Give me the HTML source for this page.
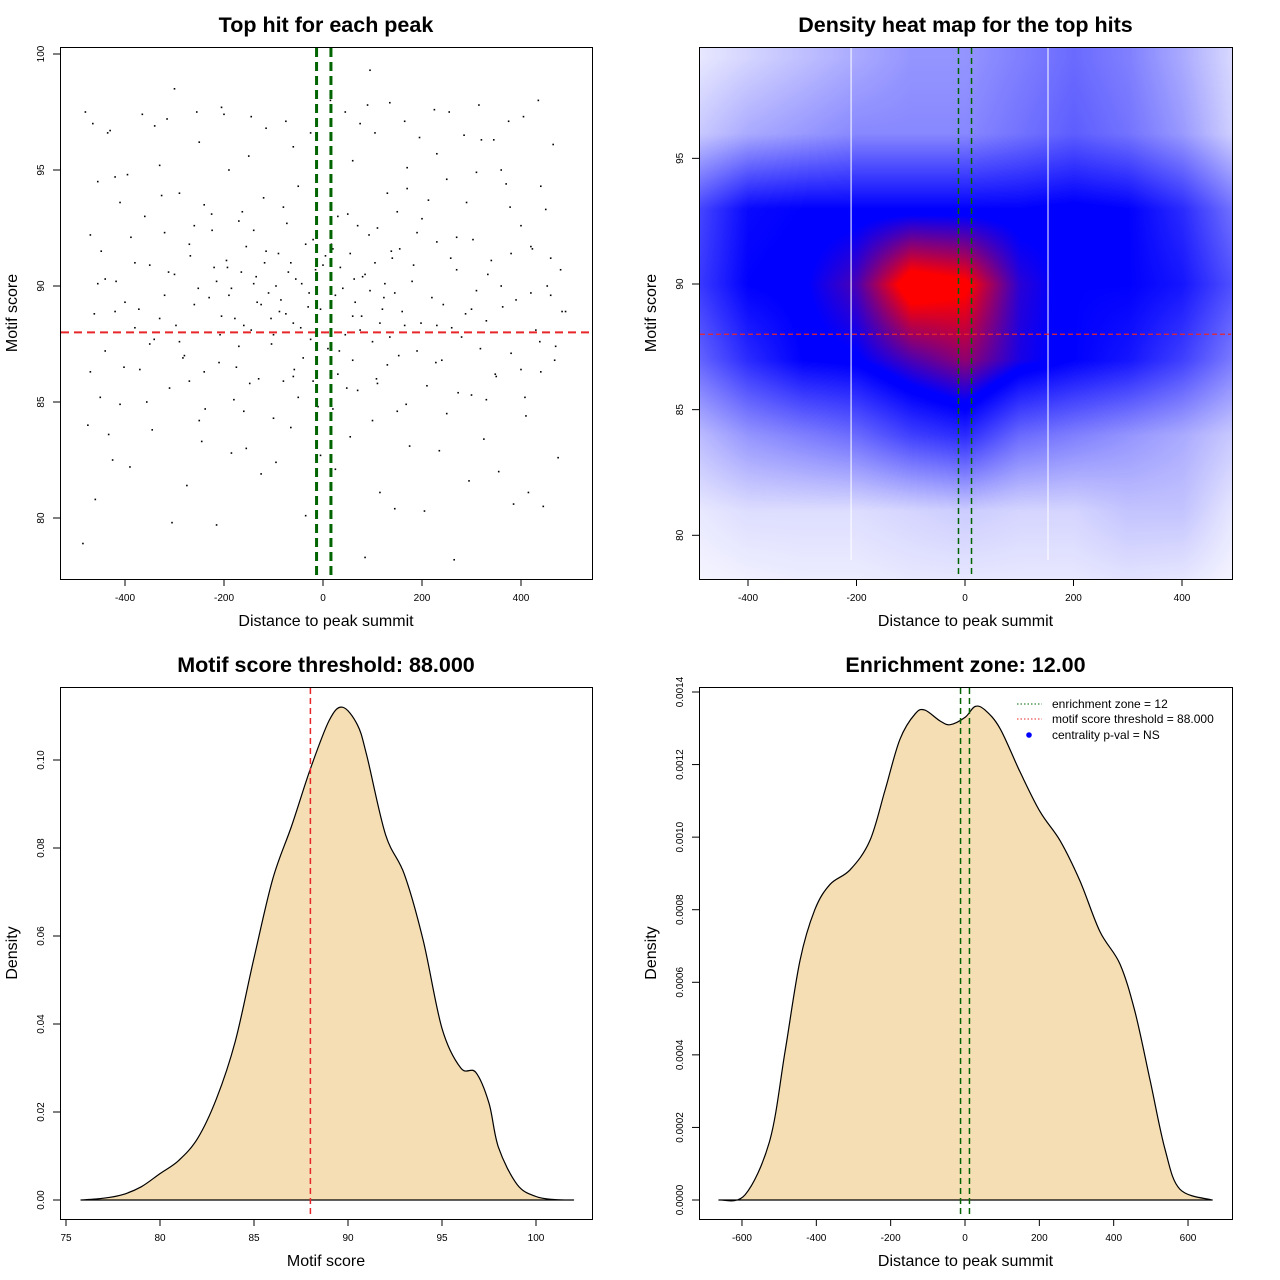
<!DOCTYPE html>
<html><head><meta charset="utf-8">
<style>
html,body{margin:0;padding:0;background:#fff;}
#wrap{position:relative;width:1280px;height:1280px;overflow:hidden;}
svg{position:absolute;left:0;top:0;}
text{font-family:"Liberation Sans",sans-serif;fill:#000;}
#heat{position:absolute;left:699px;top:47px;}
</style></head>
<body>
<div id="wrap">
<canvas id="heat" width="533" height="532"></canvas>
<svg id="svg" width="1280" height="1280" xmlns="http://www.w3.org/2000/svg"></svg>
</div>
<script>
// ---------- data ----------
// top hits: [distance to summit, motif score]
const hits = [
[-480,97.5],[-470,92.2],[-455,94.5],[-450,85.2],[-440,90.3],[-430,96.7],[-420,88.9],[-410,84.9],[-400,89.3],[-395,94.8],
[-380,91.0],[-370,86.4],[-360,93.0],[-350,87.5],[-340,96.9],[-330,88.6],[-320,92.3],[-310,85.6],[-300,90.5],[-290,94.0],
[-280,87.0],[-270,91.8],[-260,89.2],[-250,84.2],[-240,93.5],[-230,88.0],[-220,90.8],[-210,86.7],[-200,97.4],[-190,89.6],
[-180,85.1],[-170,92.8],[-160,88.3],[-150,95.6],[-140,90.1],[-130,86.0],[-120,93.8],[-110,89.7],[-100,87.9],[-90,91.4],
[-80,85.9],[-70,90.6],[-60,88.4],[-50,94.3],[-40,86.9],[-30,89.1],[-20,92.0],[-10,84.8],[0,90.9],[10,87.3],
[20,91.6],[30,86.2],[40,89.9],[50,93.1],[60,88.7],[70,85.5],[80,90.4],[90,97.8],[100,87.6],[110,92.5],
[120,89.0],[130,86.6],[140,91.2],[150,84.6],[160,88.9],[170,95.1],[180,90.2],[190,87.2],[200,92.9],[210,85.7],
[220,89.5],[230,91.9],[240,86.8],[250,94.6],[260,88.2],[270,90.7],[280,87.8],[290,93.6],[300,85.3],[310,89.8],
[320,96.3],[330,88.5],[340,91.1],[350,86.1],[360,90.0],[370,94.4],[380,87.1],[390,89.4],[400,92.6],[410,84.4],
[420,91.7],[430,88.1],[440,86.3],[450,93.3],[460,89.6],[470,87.4],[480,90.7],[490,88.9],
[-475,84.0],[-462,88.8],[-448,91.5],[-433,83.6],[-418,90.2],[-402,86.5],[-388,92.1],[-372,89.0],[-356,85.0],[-341,87.7],
[-326,93.9],[-312,90.6],[-297,88.3],[-283,86.9],[-268,91.3],[-252,89.9],[-238,84.7],[-224,92.4],[-208,87.9],[-193,90.8],
[-178,88.6],[-163,93.2],[-148,85.8],[-133,89.3],[-118,91.0],[-104,87.5],[-88,88.9],[-73,92.7],[-58,86.4],[-43,90.1],
[-28,89.7],[-14,83.3],[4,88.0],[17,91.8],[33,87.2],[48,85.6],[63,90.3],[78,88.7],[93,92.2],[108,86.0],
[123,89.5],[138,91.5],[153,87.0],[168,84.9],[183,90.9],[198,88.4],[213,93.7],[228,86.7],[243,89.2],[258,91.2],
[273,85.4],[288,88.8],[303,92.0],[318,87.3],[333,90.5],[348,86.2],[363,89.1],[378,93.4],[393,88.0],[408,85.2],
[423,91.6],[438,87.6],[453,90.0],[468,86.8],[483,88.9],
[-485,78.9],[-460,80.8],[-425,82.5],[-390,82.2],[-345,83.8],[-305,79.8],[-275,81.4],[-245,83.3],[-215,79.7],[-185,82.8],
[-155,83.0],[-125,81.9],[-95,82.4],[-65,83.9],[-35,80.1],[-5,82.7],[25,82.1],[55,83.5],[85,78.3],[115,81.1],
[145,80.4],[175,83.1],[205,80.3],[235,82.9],[265,78.2],[295,81.6],[325,83.4],[355,82.0],[385,80.6],[415,81.1],
[445,80.5],[475,82.6],
[-465,97.0],[-435,96.6],[-365,97.4],[-315,97.2],[-255,97.5],[-205,97.7],[-145,97.3],[-115,96.8],[-75,97.1],[-25,96.6],
[15,98.0],[45,97.5],[75,97.0],[105,96.6],[135,97.9],[165,97.1],[195,96.4],[225,97.6],[255,97.5],[285,96.5],
[315,97.8],[345,96.3],[375,97.1],[405,97.3],[435,98.0],[465,96.1],[-300,98.5],[95,99.3],
[-230,89.5],[-215,90.2],[-205,88.7],[-195,91.1],[-185,89.9],[-170,87.4],[-165,90.6],[-155,91.7],[-145,88.1],[-135,90.4],
[-125,89.2],[-115,91.5],[-105,88.6],[-95,90.0],[-85,89.4],[-75,88.8],[-65,91.0],[-55,90.3],[-45,88.2],[-35,91.8],
[-25,87.7],[-15,90.7],[-5,89.0],[5,91.3],[15,88.5],[25,89.6],[35,90.8],[45,87.9],[55,91.4],[65,89.3],
[75,88.1],[85,90.5],[95,89.8],[105,91.0],[115,88.4],[125,90.1],[135,87.8],[145,89.7],[155,91.6],[165,88.3],
[-380,88.2],[-350,90.9],[-320,89.6],[-290,87.6],[-260,92.6],[-240,86.3],[-225,93.1],[-175,86.5],[-140,92.4],[-80,93.4],
[-60,86.1],[-20,85.9],[30,93.0],[70,92.6],[110,85.8],[150,93.2],[190,92.3],[230,88.3],[270,92.1],[300,89.0],
[340,88.0],[380,91.4],[420,89.7],[460,91.2],[-440,87.2],[-410,93.6],[-470,86.3],[-455,90.1],[250,84.5],[-100,84.3],
[-50,85.2],[20,84.7],[60,86.8],[100,84.2],[-160,84.6],[-270,85.9],[330,85.1],[400,86.4],[-330,95.2],[170,94.2],
[-420,94.7],[-190,95.0],[-60,96.0],[60,95.4],[230,95.7],[360,95.0],[440,94.3],[-250,96.2],[130,94.0],[310,94.9]];

// heatmap grid: rows of density (top y=99 to bottom y=78), columns x=-500..500 step 100
const heatX = [-500,-400,-300,-200,-100,0,100,200,300,400,500];
const heatY = [99,96,93,90,87,84,81,78];
const heatRows = [
 [0.05,0.10,0.15,0.20,0.25,0.25,0.30,0.35,0.30,0.20,0.08],
 [0.12,0.20,0.24,0.28,0.28,0.28,0.33,0.38,0.33,0.24,0.10],
 [0.42,0.58,0.60,0.60,0.60,0.60,0.60,0.62,0.60,0.50,0.32],
 [0.45,0.60,0.62,0.72,1.00,0.95,0.68,0.60,0.60,0.55,0.40],
 [0.35,0.50,0.60,0.62,0.72,0.80,0.66,0.60,0.55,0.45,0.30],
 [0.15,0.25,0.30,0.35,0.45,0.50,0.35,0.30,0.25,0.20,0.12],
 [0.05,0.08,0.08,0.08,0.10,0.12,0.10,0.10,0.14,0.14,0.05],
 [0.02,0.03,0.04,0.04,0.05,0.05,0.05,0.05,0.06,0.05,0.02]];

const scoreX = [75.8,77,78,79,80,81,82,83,84,85,86,87,88,89,89.7,90.5,91,92,93,94,95,96,96.8,97.5,98,99,100,101,102];
const scoreDensity = [0,0.0004,0.0012,0.003,0.006,0.009,0.014,0.023,0.036,0.055,0.073,0.085,0.098,0.109,0.112,0.108,0.101,0.083,0.074,0.059,0.039,0.030,0.029,0.022,0.012,0.0035,0.0008,0.0001,0];

const distX = [-662,-592,-525,-484,-444,-404,-363,-309,-256,-215,-175,-134,-108,-67,-40,0,27,54,94,148,202,256,309,363,417,457,498,538,578,665];
const distDensity = [0,0.000014,0.000165,0.00041,0.00066,0.0008,0.00087,0.00091,0.00099,0.00113,0.00127,0.00134,0.00135,0.00132,0.00131,0.00133,0.00136,0.00135,0.0013,0.00118,0.00107,0.00099,0.00088,0.00074,0.00065,0.00052,0.00033,0.00014,0.00003,0];

const threshold = 88;
const zone = 12;

// ---------- drawing ----------
const NS="http://www.w3.org/2000/svg";
const svg=document.getElementById('svg');
function mk(tag,attrs,parent){const e=document.createElementNS(NS,tag);for(const k in attrs)e.setAttribute(k,attrs[k]);(parent||svg).appendChild(e);return e;}
function txt(s,x,y,size,opts,parent){opts=opts||{};const t=mk('text',{x:x,y:y,'font-size':size,'text-anchor':opts.anchor||'middle'},parent);if(opts.bold)t.setAttribute('font-weight','bold');if(opts.rot)t.setAttribute('transform','rotate(-90 '+x+' '+y+')');t.textContent=s;return t;}
function smoothPath(pts){
  let d='M'+pts[0][0].toFixed(1)+','+pts[0][1].toFixed(1);
  for(let i=0;i<pts.length-1;i++){
    const p0=pts[Math.max(0,i-1)],p1=pts[i],p2=pts[i+1],p3=pts[Math.min(pts.length-1,i+2)];
    const c1=[p1[0]+(p2[0]-p0[0])/6,p1[1]+(p2[1]-p0[1])/6],c2=[p2[0]-(p3[0]-p1[0])/6,p2[1]-(p3[1]-p1[1])/6];
    d+=' C'+c1[0].toFixed(1)+','+c1[1].toFixed(1)+' '+c2[0].toFixed(1)+','+c2[1].toFixed(1)+' '+p2[0].toFixed(1)+','+p2[1].toFixed(1);
  }
  return d;
}

function axes(g,box,sx,sy,xt,yt,xfmt,yfmt,title,xlab,ylab){
  const [x0,x1,y0,y1]=box;
  const frame=mk('rect',{x:x0+0.5,y:y0+0.5,width:x1-x0,height:y1-y0,fill:'none',stroke:'#000','stroke-width':1},g);
  
  const xa=mk('g',{},g);
  mk('line',{x1:sx(xt[0]),x2:sx(xt[xt.length-1]),y1:y1+0.5,y2:y1+0.5,stroke:'#000'},xa);
  xt.forEach(v=>{const p=sx(v);mk('line',{x1:p,x2:p,y1:y1,y2:y1+7,stroke:'#000'},xa);
    const t=txt(xfmt(v),p,y1+22,10,{},xa);});
  const ya=mk('g',{},g);
  mk('line',{x1:x0+0.5,x2:x0+0.5,y1:sy(yt[0]),y2:sy(yt[yt.length-1]),stroke:'#000'},ya);
  yt.forEach(v=>{const p=sy(v);mk('line',{x1:x0-7,x2:x0,y1:p,y2:p,stroke:'#000'},ya);
    const t=txt(yfmt(v),x0-16,p,10,{rot:true},ya);});
  const tt=txt(title,(x0+x1)/2,y0-15,21.5,{bold:true},g);
  const xl=txt(xlab,(x0+x1)/2,y1+47,16,{},g);
  const yl=txt(ylab,x0-43,(y0+y1)/2,16,{rot:true},g);
}
function vline(g,x,y0,y1,color,w,dash,name){const l=mk('line',{x1:x,x2:x,y1:y0,y2:y1,stroke:color,'stroke-width':w,'stroke-dasharray':dash},g);}
function hline(g,y,x0,x1,color,w,dash,name){const l=mk('line',{x1:x0,x2:x1,y1:y,y2:y,stroke:color,'stroke-width':w,'stroke-dasharray':dash},g);}

// Panel 1: scatter
(function(){
  const g=mk('g',{});
  const sx=v=>323+v*0.495, sy=v=>286-(v-90)*23.2;
  const box=[60,592,47,579];
  hits.forEach(h=>{const px=sx(h[0]),py=sy(h[1]);
    if(!(px>box[0]&&px<box[1]&&py>box[2]&&py<box[3]))return;
    const c=mk('rect',{x:px-0.8,y:py-0.8,width:1.6,height:1.6,fill:'#000'},g);
    });
  hline(g,sy(threshold),61,591,'#e8262a',2,'8,5','threshold-line');
  vline(g,sx(-zone)-0.5,48,578,'#006400',3,'9,5','zone-left-line');
  vline(g,sx(zone)+2,48,578,'#006400',3,'9,5','zone-right-line');
  axes(g,box,sx,sy,[-400,-200,0,200,400],[80,85,90,95,100],v=>String(v),v=>String(v),'Top hit for each peak','Distance to peak summit','Motif score');
})();

// Panel 2: heatmap
(function(){
  const cv=document.getElementById('heat');const ctx=cv.getContext('2d');
  const W=533,H=532;const img=ctx.createImageData(W,H);
  const sxInv=px=>(px+699-965)/0.5425, syInv=py=>90-(py+47-284)/25.13;
  function val(x,y){
    let fx=(x-heatX[0])/(heatX[1]-heatX[0]); fx=Math.max(0,Math.min(heatX.length-1.0001,fx));
    let fy=(heatY[0]-y)/(heatY[0]-heatY[1]); fy=Math.max(0,Math.min(heatY.length-1.0001,fy));
    const i=Math.floor(fx),j=Math.floor(fy),A=fx-i,B=fy-j;
    return (heatRows[j][i]*(1-A)+heatRows[j][i+1]*A)*(1-B)+(heatRows[j+1][i]*(1-A)+heatRows[j+1][i+1]*A)*B;
  }
  for(let py=0;py<H;py++)for(let px=0;px<W;px++){
    const v=val(sxInv(px),syInv(py));let r,gg,b;
    if(v<0.6){const t=v/0.6;r=255*(1-t);gg=255*(1-t);b=255;}
    else{const u=Math.max(0,Math.min(1,(v-0.63)/0.3));r=255*u;gg=0;b=255*(1-u);}
    const k=(py*W+px)*4;img.data[k]=r;img.data[k+1]=gg;img.data[k+2]=b;img.data[k+3]=255;}
  ctx.putImageData(img,0,0);
  const g=mk('g',{});
  const sx=v=>965+v*0.5425, sy=v=>284-(v-90)*25.13;
  vline(g,sx(-210),48,560,'#ffffff',1,'none','quantile-line-left');
  vline(g,sx(153),48,560,'#ffffff',1,'none','quantile-line-right');
  hline(g,sy(threshold),700,1231,'#e8262a',1.3,'5,3','threshold-line');
  vline(g,sx(-zone),48,578,'#006400',1.5,'6,4','zone-left-line');
  vline(g,sx(zone),48,578,'#006400',1.5,'6,4','zone-right-line');
  axes(g,[699,1232,47,579],sx,sy,[-400,-200,0,200,400],[80,85,90,95],v=>String(v),v=>String(v),'Density heat map for the top hits','Distance to peak summit','Motif score');
})();

// Panel 3: score density
(function(){
  const g=mk('g',{});
  const sx=v=>66+(v-75)*18.8, sy=v=>1200-v*4400;
  const pts=scoreX.map((x,i)=>[sx(x),sy(scoreDensity[i])]);
  const p=mk('path',{d:smoothPath(pts)+' Z',fill:'#f5deb3',stroke:'#000','stroke-width':1.2,'stroke-linejoin':'round'},g);
  
  vline(g,sx(threshold),688,1218,'#e8262a',1.5,'6,4','threshold-line');
  axes(g,[60,592,687,1219],sx,sy,[75,80,85,90,95,100],[0,0.02,0.04,0.06,0.08,0.10],v=>String(v),v=>v.toFixed(2),'Motif score threshold: 88.000','Motif score','Density');
})();

// Panel 4: distance density
(function(){
  const g=mk('g',{});
  const sx=v=>965+v*0.3717, sy=v=>1200-v*362857;
  const pts=distX.map((x,i)=>[sx(x),sy(distDensity[i])]);
  const p=mk('path',{d:smoothPath(pts)+' Z',fill:'#f5deb3',stroke:'#000','stroke-width':1.2,'stroke-linejoin':'round'},g);
  
  vline(g,sx(-zone),688,1218,'#006400',1.5,'6,4','zone-left-line');
  vline(g,sx(zone),688,1218,'#006400',1.5,'6,4','zone-right-line');
  axes(g,[699,1232,687,1219],sx,sy,[-600,-400,-200,0,200,400,600],[0,0.0002,0.0004,0.0006,0.0008,0.0010,0.0012,0.0014],v=>String(v),v=>v.toFixed(4),'Enrichment zone: 12.00','Distance to peak summit','Density');
  const lg=mk('g',{},g);
  mk('line',{x1:1017,x2:1042,y1:704,y2:704,stroke:'#006400','stroke-dasharray':'1.5,2'},lg);
  mk('line',{x1:1017,x2:1042,y1:719,y2:719,stroke:'#e8262a','stroke-dasharray':'1.5,2'},lg);
  mk('circle',{cx:1029,cy:735,r:2.8,fill:'#0000ff'},lg);
  [[704,'enrichment zone = 12'],[719,'motif score threshold = 88.000'],[735,'centrality p-val = NS']].forEach(([y,s])=>{
    const t=txt(s,1052,y+4,12,{anchor:'start'},lg);});
})();
</script>
</body></html>
